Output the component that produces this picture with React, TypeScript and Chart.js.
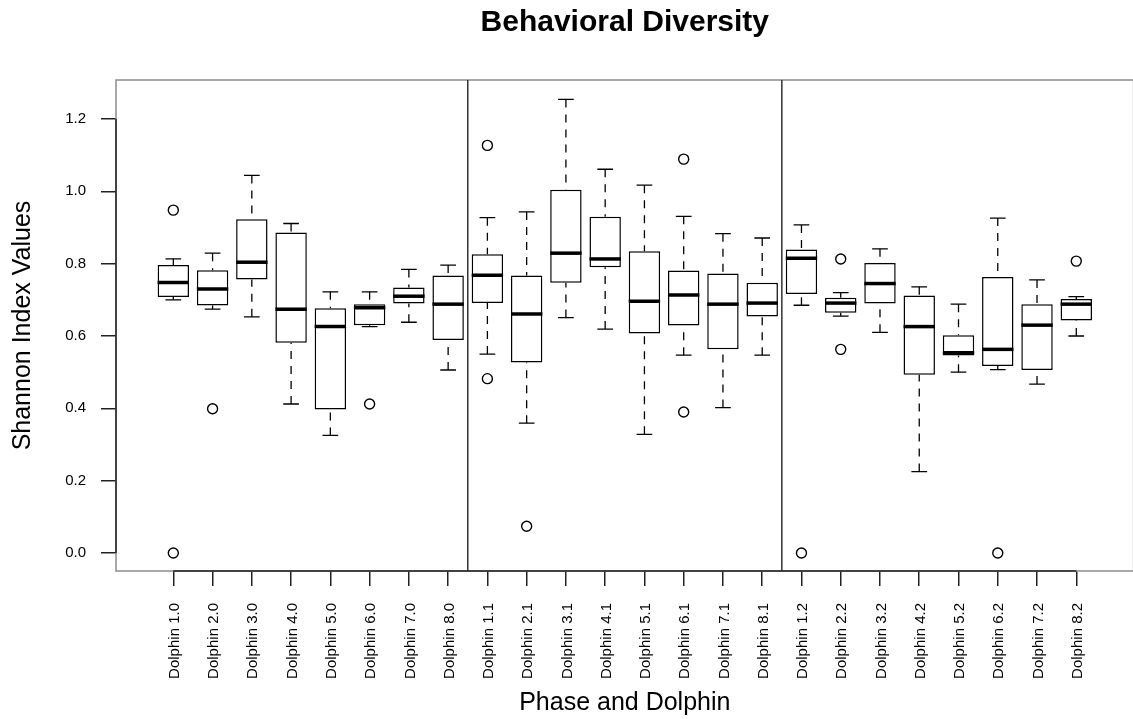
import { useEffect, useRef } from 'react';
import { Chart, registerables } from 'chart.js';

Chart.register(...registerables);

const FONT = "'Liberation Sans', Arial, Helvetica, sans-serif";

const categories = [
  'Dolphin 1.0', 'Dolphin 2.0', 'Dolphin 3.0', 'Dolphin 4.0', 'Dolphin 5.0', 'Dolphin 6.0', 'Dolphin 7.0', 'Dolphin 8.0',
  'Dolphin 1.1', 'Dolphin 2.1', 'Dolphin 3.1', 'Dolphin 4.1', 'Dolphin 5.1', 'Dolphin 6.1', 'Dolphin 7.1', 'Dolphin 8.1',
  'Dolphin 1.2', 'Dolphin 2.2', 'Dolphin 3.2', 'Dolphin 4.2', 'Dolphin 5.2', 'Dolphin 6.2', 'Dolphin 7.2', 'Dolphin 8.2',
];

const whiskerLow = [
  0.700, 0.674, 0.653, 0.412, 0.325, 0.626, 0.638, 0.506,
  0.550, 0.359, 0.651, 0.619, 0.328, 0.547, 0.402, 0.547,
  0.685, 0.655, 0.610, 0.225, 0.500, 0.507, 0.467, 0.600,
];
const q1 = [
  0.708, 0.684, 0.756, 0.581, 0.397, 0.630, 0.690, 0.589,
  0.691, 0.527, 0.747, 0.790, 0.607, 0.629, 0.563, 0.654,
  0.716, 0.664, 0.690, 0.493, 0.546, 0.517, 0.506, 0.643,
];
const median = [
  0.748, 0.730, 0.804, 0.674, 0.626, 0.678, 0.710, 0.688,
  0.768, 0.661, 0.829, 0.813, 0.696, 0.713, 0.688, 0.691,
  0.815, 0.691, 0.745, 0.626, 0.554, 0.563, 0.630, 0.688,
];
const q3 = [
  0.796, 0.782, 0.923, 0.886, 0.677, 0.688, 0.734, 0.767,
  0.826, 0.767, 1.004, 0.930, 0.834, 0.781, 0.773, 0.747,
  0.839, 0.706, 0.802, 0.712, 0.602, 0.763, 0.688, 0.702,
];
const whiskerHigh = [
  0.813, 0.829, 1.044, 0.911, 0.722, 0.722, 0.784, 0.796,
  0.927, 0.943, 1.254, 1.061, 1.017, 0.931, 0.883, 0.871,
  0.907, 0.720, 0.841, 0.736, 0.688, 0.926, 0.755, 0.709,
];
const outliers: number[][] = [
  [0.948, 0.0], [0.399], [], [], [], [0.412], [], [],
  [1.127, 0.482], [0.074], [], [], [], [1.089, 0.390], [], [],
  [0.0], [0.813, 0.563], [], [], [], [0.0], [], [0.807],
];

const yTicks = [0, 0.2, 0.4, 0.6, 0.8, 1.0, 1.2];
const phaseBreaks = [8.5, 16.5];

const boxPartsPlugin = {
  id: 'boxParts',
  beforeDatasetsDraw(chart: any) {
    const { ctx, chartArea: a, scales } = chart;
    const x = scales.x;
    const y = scales.y;
    const seg = (x1: number, y1: number, x2: number, y2: number) => {
      ctx.beginPath();
      ctx.moveTo(x1, y1);
      ctx.lineTo(x2, y2);
      ctx.stroke();
    };
    ctx.save();
    ctx.lineWidth = 1.5;
    ctx.strokeStyle = '#8c8c8c';
    ctx.strokeRect(a.left, a.top, a.right - a.left, a.bottom - a.top);
    ctx.strokeStyle = '#333';
    phaseBreaks.forEach((b) => {
      const px = x.getPixelForValue(b);
      seg(px, a.top, px, a.bottom);
    });
    ctx.strokeStyle = '#222';
    seg(x.getPixelForValue(1), a.bottom, x.getPixelForValue(categories.length), a.bottom);
    seg(a.left, y.getPixelForValue(yTicks[0]), a.left, y.getPixelForValue(yTicks[yTicks.length - 1]));
    ctx.restore();
  },
  afterDatasetsDraw(chart: any) {
    const { ctx, scales } = chart;
    const y = scales.y;
    const meta = chart.getDatasetMeta(0);
    ctx.save();
    ctx.strokeStyle = '#000';
    meta.data.forEach((el: any, i: number) => {
      const cx = el.x;
      const half = el.width / 2;
      const cap = half / 2;
      const yl = y.getPixelForValue(whiskerLow[i]);
      const yq1 = y.getPixelForValue(q1[i]);
      const ym = y.getPixelForValue(median[i]);
      const yq3 = y.getPixelForValue(q3[i]);
      const yh = y.getPixelForValue(whiskerHigh[i]);
      ctx.lineWidth = 1.3;
      ctx.setLineDash([8, 7]);
      ctx.beginPath();
      ctx.moveTo(cx, yh);
      ctx.lineTo(cx, yq3);
      ctx.moveTo(cx, yl);
      ctx.lineTo(cx, yq1);
      ctx.stroke();
      ctx.setLineDash([]);
      ctx.beginPath();
      ctx.moveTo(cx - cap, yh);
      ctx.lineTo(cx + cap, yh);
      ctx.moveTo(cx - cap, yl);
      ctx.lineTo(cx + cap, yl);
      ctx.stroke();
      ctx.lineWidth = 3.5;
      ctx.lineCap = 'butt';
      ctx.beginPath();
      ctx.moveTo(cx - half, ym);
      ctx.lineTo(cx + half, ym);
      ctx.stroke();
    });
    ctx.restore();
  },
};

export default function App() {
  const canvasRef = useRef<HTMLCanvasElement | null>(null);

  useEffect(() => {
    if (!canvasRef.current) return;
    Chart.defaults.font.family = FONT;
    Chart.defaults.color = '#000';

    const boxData = categories.map((_, i) => ({ x: i + 1, y: [q1[i], q3[i]] }));
    const outlierData: { x: number; y: number }[] = [];
    outliers.forEach((vals, i) => vals.forEach((v) => outlierData.push({ x: i + 1, y: v })));

    const chart = new Chart(canvasRef.current, {
      type: 'bar',
      data: {
        datasets: [
          {
            type: 'bar',
            label: 'IQR',
            data: boxData as any,
            backgroundColor: '#ffffff',
            borderColor: '#000000',
            borderWidth: 1.5,
            borderSkipped: false,
            barPercentage: 0.8,
            categoryPercentage: 1.0,
            order: 2,
          },
          {
            type: 'scatter',
            label: 'Outliers',
            data: outlierData as any,
            pointStyle: 'circle',
            pointRadius: 5,
            pointBorderWidth: 1.4,
            pointBorderColor: '#000',
            pointBackgroundColor: 'rgba(0,0,0,0)',
            showLine: false,
            order: 1,
          } as any,
        ],
      },
      options: {
        responsive: false,
        animation: false,
        devicePixelRatio: 1,
        events: [],
        layout: { padding: { left: 0, top: 0, right: 5.4, bottom: 0 } },
        plugins: {
          legend: { display: false },
          tooltip: { enabled: false },
          title: {
            display: true,
            text: 'Behavioral Diversity',
            fullSize: false,
            color: '#000',
            font: { size: 30, weight: 'bold', family: FONT },
            padding: { top: 5, bottom: 39 },
          },
        },
        scales: {
          x: {
            type: 'linear',
            offset: false,
            min: -0.46,
            max: 25.46,
            afterBuildTicks: (s: any) => {
              s.ticks = categories.map((_, i) => ({ value: i + 1 }));
            },
            afterFit: (s: any) => {
              s.height = 148;
            },
            ticks: {
              autoSkip: false,
              minRotation: 90,
              maxRotation: 90,
              padding: 17,
              labelOffset: 1.5,
              color: '#000',
              font: { size: 15, family: FONT },
              callback: (v: any) => categories[Math.round(Number(v)) - 1] ?? '',
            },
            grid: {
              offset: false,
              drawOnChartArea: false,
              drawTicks: true,
              tickLength: 15,
              color: '#222',
              lineWidth: 1.5,
            },
            border: { display: false },
            title: {
              display: true,
              text: 'Phase and Dolphin',
              color: '#000',
              font: { size: 25, family: FONT },
              padding: { top: 0, bottom: 1 },
            },
          },
          y: {
            type: 'linear',
            min: -0.0498,
            max: 1.3078,
            afterBuildTicks: (s: any) => {
              s.ticks = yTicks.map((v) => ({ value: v }));
            },
            afterFit: (s: any) => {
              s.width = 116;
            },
            ticks: {
              padding: 15,
              color: '#000',
              font: { size: 15, family: FONT },
              callback: (v: any) => Number(v).toFixed(1),
            },
            grid: {
              drawOnChartArea: false,
              drawTicks: true,
              tickLength: 15,
              color: '#222',
              lineWidth: 1.5,
            },
            border: { display: false },
            title: {
              display: true,
              text: 'Shannon Index Values',
              color: '#000',
              font: { size: 25, family: FONT },
              padding: { top: 8, bottom: 0 },
            },
          },
        },
      } as any,
      plugins: [boxPartsPlugin],
    });

    return () => chart.destroy();
  }, []);

  return (
    <div
      style={{
        position: 'fixed',
        left: 0,
        top: 0,
        width: 1133,
        height: 719,
        overflow: 'hidden',
        background: '#ffffff',
      }}
    >
      <canvas ref={canvasRef} width={1140} height={719} style={{ display: 'block' }} />
    </div>
  );
}
